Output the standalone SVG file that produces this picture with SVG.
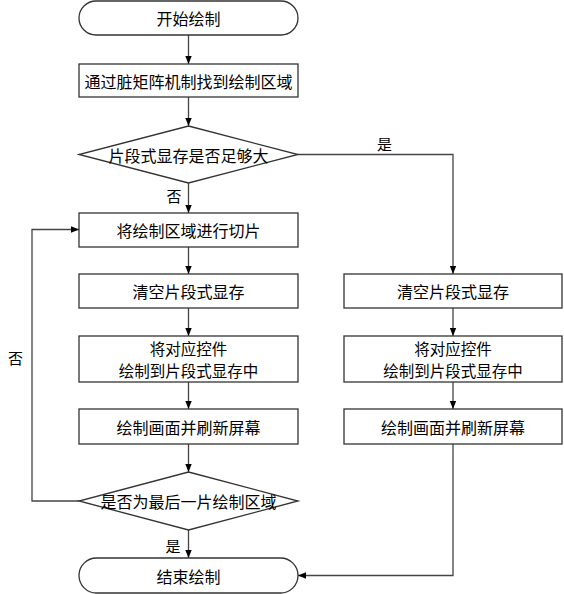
<svg xmlns="http://www.w3.org/2000/svg" width="564" height="594" viewBox="0 0 564 594">
<style>
.s{fill:#fff;stroke:#333;stroke-width:1.3}
.t{font-family:"Noto Sans CJK SC","Noto Sans CJK JP",sans-serif;font-size:16px;fill:#000;text-anchor:middle;dominant-baseline:central}
.t2{font-family:"Noto Sans CJK SC","Noto Sans CJK JP",sans-serif;font-size:15.5px;fill:#000;text-anchor:middle;dominant-baseline:central}
.l{font-family:"Noto Sans CJK SC","Noto Sans CJK JP",sans-serif;font-size:15px;fill:#000;text-anchor:middle;dominant-baseline:central}
.c{fill:none;stroke:#444;stroke-width:1.3}
</style>
<defs>
<marker id="a" markerWidth="8" markerHeight="10" refX="10" refY="4" viewBox="0 0 10 8" orient="auto" markerUnits="userSpaceOnUse">
<path d="M0,0 L10,4 L0,8 Z" fill="#000"/>
</marker>
</defs>
<rect width="564" height="594" fill="#fff"/>
<g id="connectors">
<path class="c" d="M188.5,35 V64" marker-end="url(#a)"/>
<path class="c" d="M188.5,97 V126" marker-end="url(#a)"/>
<path class="c" d="M188.5,183 V213" marker-end="url(#a)"/>
<path class="c" d="M188.5,247 V274" marker-end="url(#a)"/>
<path class="c" d="M188.5,308 V336" marker-end="url(#a)"/>
<path class="c" d="M188.5,382 V409" marker-end="url(#a)"/>
<path class="c" d="M188.5,444 V472" marker-end="url(#a)"/>
<path class="c" d="M188.5,530 V558" marker-end="url(#a)"/>
<path class="c" d="M79,501 H32 V229.5 H79" marker-end="url(#a)"/>
<path class="c" d="M298,154.5 H453 V274" marker-end="url(#a)"/>
<path class="c" d="M453,308 V336" marker-end="url(#a)"/>
<path class="c" d="M453,382 V409" marker-end="url(#a)"/>
<path class="c" d="M453,444 V575.5 H298" marker-end="url(#a)"/>
<text class="l" x="174" y="195">否</text>
<text class="l" x="384.5" y="143.5">是</text>
<text class="l" x="173" y="545">是</text>
<text class="l" x="15.5" y="357.5">否</text>
</g>
<g id="start"><rect class="s" x="79" y="1" width="219" height="34" rx="17"/><text class="t" x="188.5" y="18">开始绘制</text></g>
<g id="find"><rect class="s" x="79" y="64" width="219" height="33"/><text class="t" x="188.5" y="80.5">通过脏矩阵机制找到绘制区域</text></g>
<g id="dec1"><polygon class="s" points="188.5,126 298,154.5 188.5,183 79,154.5"/><text class="t" x="188.5" y="154.5">片段式显存是否足够大</text></g>
<g id="slice"><rect class="s" x="79" y="213" width="219" height="34"/><text class="t" x="188.5" y="230">将绘制区域进行切片</text></g>
<g id="clearL"><rect class="s" x="79" y="274" width="219" height="34"/><text class="t" x="188.5" y="291">清空片段式显存</text></g>
<g id="drawL"><rect class="s" x="79" y="336" width="219" height="46"/><text class="t2" x="188.5" y="347.5">将对应控件</text><text class="t2" x="188.5" y="370">绘制到片段式显存中</text></g>
<g id="refreshL"><rect class="s" x="79" y="409" width="219" height="35"/><text class="t" x="188.5" y="426.5">绘制画面并刷新屏幕</text></g>
<g id="dec2"><polygon class="s" points="188.5,472 298,501 188.5,530 79,501"/><text class="t" x="188.5" y="501">是否为最后一片绘制区域</text></g>
<g id="end"><rect class="s" x="79" y="558" width="219" height="35" rx="17.5"/><text class="t" x="188.5" y="575.5">结束绘制</text></g>
<g id="clearR"><rect class="s" x="344" y="274" width="218" height="34"/><text class="t" x="453" y="291">清空片段式显存</text></g>
<g id="drawR"><rect class="s" x="344" y="336" width="218" height="46"/><text class="t2" x="453" y="347.5">将对应控件</text><text class="t2" x="453" y="370">绘制到片段式显存中</text></g>
<g id="refreshR"><rect class="s" x="344" y="409" width="218" height="35"/><text class="t" x="453" y="426.5">绘制画面并刷新屏幕</text></g>
</svg>
